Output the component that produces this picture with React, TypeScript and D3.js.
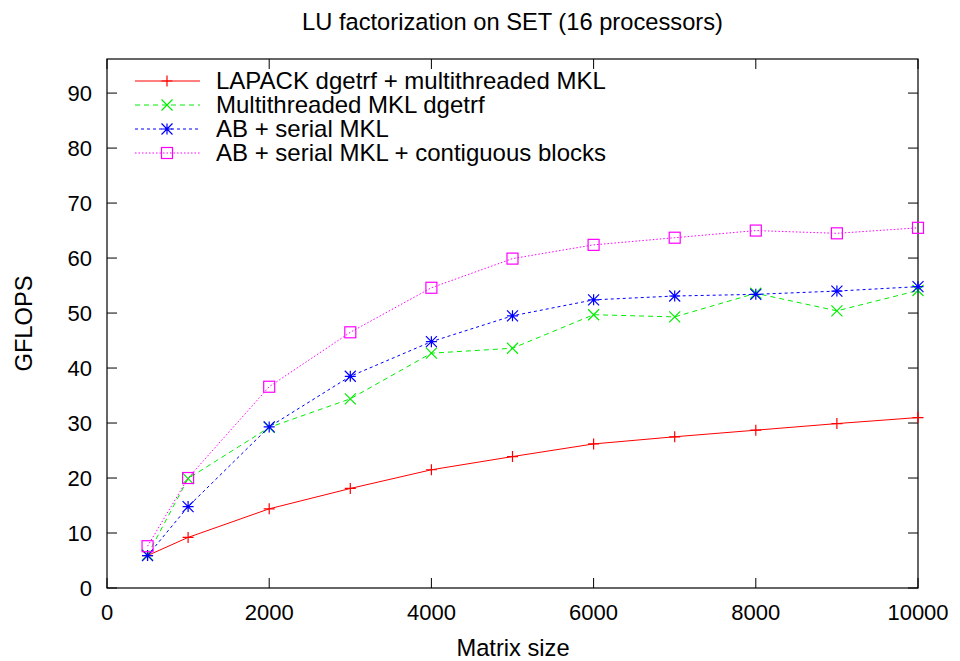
import React from "react";
import * as d3 from "d3";

const sizes = [500, 1000, 2000, 3000, 4000, 5000, 6000, 7000, 8000, 9000, 10000];
const lapack = [5.9, 9.2, 14.4, 18.1, 21.5, 23.9, 26.2, 27.5, 28.7, 29.9, 31.0];
const mklDgetrf = [6.0, 19.9, 29.2, 34.4, 42.7, 43.6, 49.7, 49.3, 53.6, 50.4, 54.1];
const abSerial = [5.9, 14.8, 29.3, 38.5, 44.8, 49.5, 52.4, 53.1, 53.4, 54.0, 54.8];
const abContig = [7.6, 20.0, 36.6, 46.5, 54.6, 59.9, 62.4, 63.7, 65.0, 64.5, 65.5];
const xTicks = [0, 2000, 4000, 6000, 8000, 10000];
const yTicks = [0, 10, 20, 30, 40, 50, 60, 70, 80, 90];

const seriesNames = [
  "LAPACK dgetrf + multithreaded MKL",
  "Multithreaded MKL dgetrf",
  "AB + serial MKL",
  "AB + serial MKL + contiguous blocks",
];
const seriesValues = [lapack, mklDgetrf, abSerial, abContig];
const colors = ["#ff0000", "#00ee00", "#0000ff", "#ff00ff"];
const dashes = ["none", "5,4", "3,3", "1.5,2"];
const markers = ["plus", "cross", "star", "square"];

const W = 960;
const H = 661;
const L = 107, R = 918, T = 59, B = 588;

function Marker({ type, x, y, color }: { type: string; x: number; y: number; color: string }) {
  const s = 5.5;
  if (type === "plus")
    return <path d={`M${x - s},${y}H${x + s}M${x},${y - s}V${y + s}`} stroke={color} strokeWidth={1.2} fill="none" />;
  if (type === "cross")
    return <path d={`M${x - s},${y - s}L${x + s},${y + s}M${x - s},${y + s}L${x + s},${y - s}`} stroke={color} strokeWidth={1.2} fill="none" />;
  if (type === "star")
    return (
      <path
        d={`M${x - s},${y}H${x + s}M${x},${y - s}V${y + s}M${x - s},${y - s}L${x + s},${y + s}M${x - s},${y + s}L${x + s},${y - s}`}
        stroke={color}
        strokeWidth={1.2}
        fill="none"
      />
    );
  return <rect x={x - 5.5} y={y - 5.5} width={11} height={11} stroke={color} strokeWidth={1.2} fill="none" />;
}

export default function App() {
  const x = d3.scaleLinear().domain([0, 10000]).range([L, R]);
  const y = d3.scaleLinear().domain([0, 96.2]).range([B, T]);
  const line = d3
    .line<number>()
    .x((_, i) => x(sizes[i]))
    .y((d) => y(d));
  const font = "'Liberation Sans', Arial, Helvetica, sans-serif";
  const tickLen = 10;
  const fs = 23.7;
  const lfs = 24;
  const tfs = 22;

  return (
    <svg width={W} height={H} style={{ position: "absolute", left: 0, top: 0, background: "#fff" }} fontFamily={font}>
      <rect x={0} y={0} width={W} height={H} fill="#fff" />
      <text x={(L + R) / 2} y={30} textAnchor="middle" fontSize={fs}>
        LU factorization on SET (16 processors)
      </text>
      {xTicks.map((t) => (
        <g key={"x" + t}>
          <line x1={x(t)} x2={x(t)} y1={B} y2={B - tickLen} stroke="#000" />
          <line x1={x(t)} x2={x(t)} y1={T} y2={T + tickLen} stroke="#000" />
          <text x={x(t)} y={B + 32} textAnchor="middle" fontSize={tfs}>
            {t}
          </text>
        </g>
      ))}
      {yTicks.map((t) => (
        <g key={"y" + t}>
          <line x1={L} x2={L + tickLen} y1={y(t)} y2={y(t)} stroke="#000" />
          <line x1={R} x2={R - tickLen} y1={y(t)} y2={y(t)} stroke="#000" />
          <text x={L - 15} y={y(t) + 8} textAnchor="end" fontSize={tfs}>
            {t}
          </text>
        </g>
      ))}
      <rect x={L} y={T} width={R - L} height={B - T} fill="none" stroke="#000" strokeWidth={1.2} />
      <text x={513} y={656} textAnchor="middle" fontSize={fs}>
        Matrix size
      </text>
      <text transform={`translate(32,${(T + B) / 2}) rotate(-90)`} textAnchor="middle" fontSize={fs}>
        GFLOPS
      </text>
      {seriesValues.map((vals, si) => (
        <g key={"s" + si}>
          <path d={line(vals) || ""} fill="none" stroke={colors[si]} strokeWidth={1} strokeDasharray={dashes[si]} />
          {vals.map((v, i) => (
            <Marker key={i} type={markers[si]} x={x(sizes[i])} y={y(v)} color={colors[si]} />
          ))}
        </g>
      ))}
      {seriesNames.map((n, si) => {
        const ly = 81 + si * 24;
        return (
          <g key={"l" + si}>
            <line x1={135} x2={200} y1={ly} y2={ly} stroke={colors[si]} strokeWidth={1} strokeDasharray={dashes[si]} />
            <Marker type={markers[si]} x={167} y={ly} color={colors[si]} />
            <text x={216} y={ly + 8} fontSize={lfs}>
              {n}
            </text>
          </g>
        );
      })}
    </svg>
  );
}
